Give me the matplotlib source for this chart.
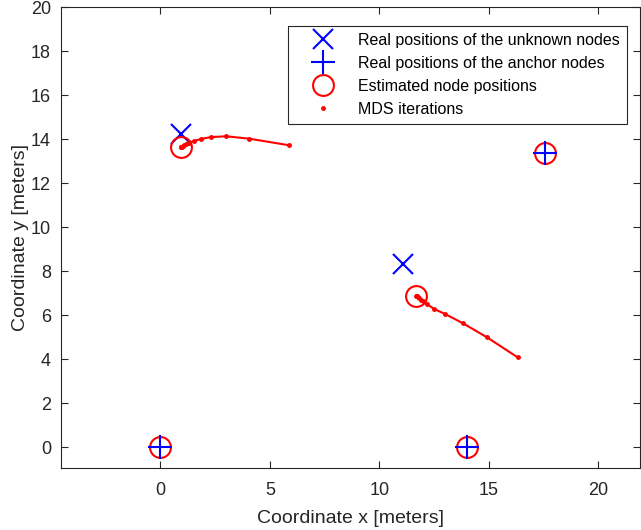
import matplotlib.pyplot as plt
from matplotlib.lines import Line2D

plt.rcParams['font.family'] = ['Liberation Sans', 'DejaVu Sans']

# anchors (known positions)
anchor_x = [0.0, 14.0, 17.58]
anchor_y = [0.0, 0.0, 13.4]

# real positions of the unknown nodes
real_x = [0.96, 11.08]
real_y = [14.26, 8.34]

# MDS iterations for each unknown node
iter1_x = [5.89, 4.06, 3.00, 2.30, 1.87, 1.55, 1.32, 1.19, 1.10, 1.03, 0.98, 0.96, 0.94, 0.93]
iter1_y = [13.73, 14.03, 14.14, 14.10, 14.02, 13.93, 13.85, 13.78, 13.74, 13.70, 13.67, 13.65, 13.64, 13.64]
iter2_x = [16.32, 14.92, 13.82, 13.01, 12.48, 12.18, 12.00, 11.88, 11.80, 11.75, 11.72, 11.70, 11.69]
iter2_y = [4.09, 5.00, 5.64, 6.06, 6.30, 6.52, 6.64, 6.72, 6.78, 6.83, 6.86, 6.88, 6.90]

# estimated positions (anchors + final MDS estimates)
est_x = [0.93, 11.69] + anchor_x
est_y = [13.64, 6.90] + anchor_y

fig = plt.figure(figsize=(6.41, 5.30), dpi=100)
ax = fig.add_axes([60.7 / 641, 1 - 467.7 / 530, 579.3 / 641, 460.4 / 530])

ax.plot(real_x, real_y, 'x', color='blue', markersize=14, markeredgewidth=1.5,
        label='Real positions of the unknown nodes')
ax.plot(anchor_x, anchor_y, '+', color='blue', markersize=17, markeredgewidth=1.5,
        label='Real positions of the anchor nodes', zorder=4)
ax.plot(est_x, est_y, 'o', color='red', markersize=15, markerfacecolor='none',
        markeredgewidth=1.5, label='Estimated node positions', zorder=3)
ax.plot(iter1_x, iter1_y, '.-', color='red', markersize=5, linewidth=1.5,
        label='MDS iterations')
ax.plot(iter2_x, iter2_y, '.-', color='red', markersize=5, linewidth=1.5)

ax.set_xlim(-4.55, 21.9)
ax.set_ylim(-0.92, 20)
ax.set_xticks([0, 5, 10, 15, 20])
ax.set_yticks(range(0, 21, 2))
ax.set_xlabel('Coordinate x [meters]', fontsize=14, color='#262626', labelpad=8)
ax.set_ylabel('Coordinate y [meters]', fontsize=14, color='#262626', labelpad=1)
ax.tick_params(direction='in', top=True, right=True, labelsize=13,
               colors='#262626', length=5)
ax.tick_params(axis='x', pad=10)
ax.tick_params(axis='y', pad=7)
for s in ax.spines.values():
    s.set_color('#262626')
    s.set_linewidth(0.8)

# legend: MDS iterations entry shown as dot only
handles, labels = ax.get_legend_handles_labels()
handles[3] = Line2D([], [], marker='.', color='red', linestyle='none', markersize=5)
leg = ax.legend(handles, labels, loc='upper right', bbox_to_anchor=(0.9776, 0.960),
                fontsize=11.5, fancybox=False, edgecolor='#262626', framealpha=1,
                borderpad=0.45, labelspacing=0.5, handlelength=3.5, handletextpad=0.45,
                borderaxespad=0)
leg.get_frame().set_linewidth(0.8)

fig.savefig('out.png', dpi=100)
